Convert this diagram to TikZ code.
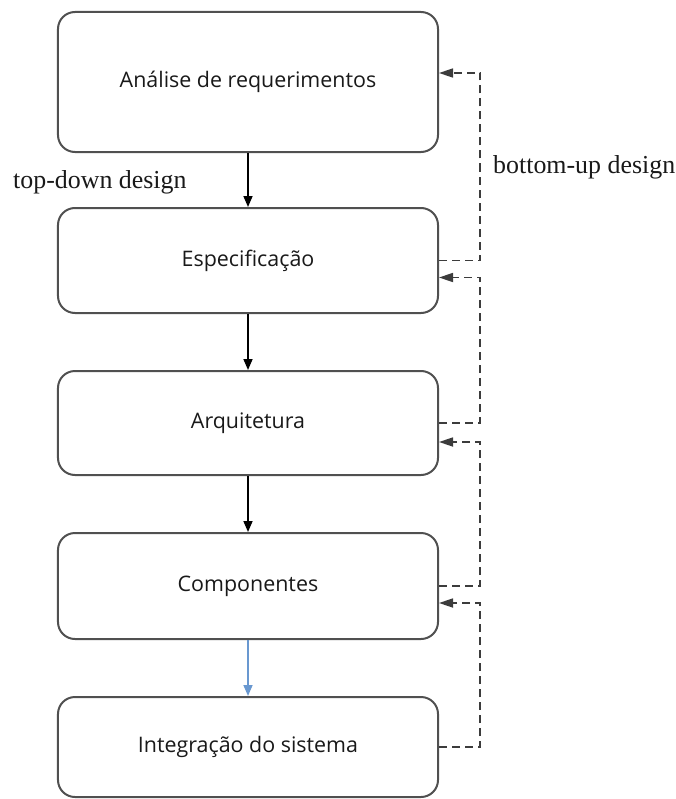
\documentclass[tikz,border=0pt]{standalone}
\usepackage{fontspec}
\setmainfont{Liberation Serif}
\newfontfamily\boxfont{Open Sans}
\usetikzlibrary{arrows.meta}
\definecolor{edge}{RGB}{80,80,80}
\definecolor{dashgray}{RGB}{60,60,60}
\definecolor{flowblue}{RGB}{105,152,208}
\begin{document}
\begin{tikzpicture}[x=1bp,y=-1bp,
  stage/.style={draw=edge, line width=2bp, rounded corners=17bp,
    minimum width=380bp, inner sep=0pt,
    font=\boxfont\fontsize{21.5}{25}\selectfont, text=black!90},
  down/.style={-{Triangle[length=11bp,width=9bp]}, line width=1.6bp},
  back/.style={-{Triangle[length=14bp,width=9bp]}, line width=1.7bp,
    draw=dashgray, dash pattern=on 8bp off 5bp},
  lbl/.style={font=\fontsize{26}{30}\selectfont, inner sep=0pt, text=black!90}]
\useasboundingbox (0,0) rectangle (676,799);

% design stages
\node[stage, minimum height=140bp] (b1) at (248,82)  {Análise de requerimentos};
\node[stage, minimum height=105bp] (b2) at (248,260.5) {Especificação};
\node[stage, minimum height=104bp] (b3) at (248,423) {Arquitetura};
\node[stage, minimum height=106bp] (b4) at (248,586) {Componentes};
\node[stage, minimum height=100bp] (b5) at (248,747) {Integração do sistema};

% labels
\node[lbl, anchor=base west] (td) at (13,188) {top-down design};
\node[lbl, anchor=base west] (bu) at (493,173) {bottom-up design};

% top-down flow
\draw[down] (b1) -- (b2);
\draw[down] (b2) -- (b3);
\draw[down] (b3) -- (b4);
\draw[down, draw=flowblue] (b4) -- (b5);

% bottom-up feedback entry points
\coordinate (i1) at ([yshift=9bp]b1.east);
\coordinate (i2) at ([yshift=-17bp]b2.east);
\coordinate (i3) at ([yshift=-19bp]b3.east);
\coordinate (i4) at ([yshift=-17bp]b4.east);

% bottom-up feedback loops
\draw[back] (b2.east) -- ++(41,0) |- (i1);
\draw[back] (b3.east) -- ++(41,0) |- (i2);
\draw[back] (b4.east) -- ++(41,0) |- (i3);
\draw[back] (b5.east) -- ++(41,0) |- (i4);
\end{tikzpicture}
\end{document}
